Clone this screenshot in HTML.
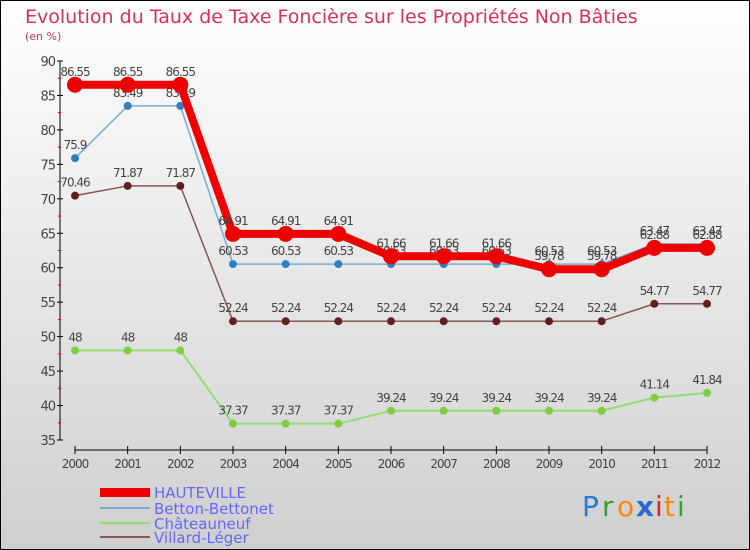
<!DOCTYPE html>
<html><head><meta charset="utf-8"><style>
body{margin:0}
#c{width:750px;height:550px;position:relative;overflow:hidden;font-family:"DejaVu Sans","Liberation Sans",sans-serif}
</style></head><body>
<div id="c">
<svg id="s" width="750" height="550" xmlns="http://www.w3.org/2000/svg">
<defs><linearGradient id="bg" x1="0" y1="0" x2="0" y2="1"><stop offset="0" stop-color="#ffffff"/><stop offset="1" stop-color="#cfcfcf"/></linearGradient></defs>
<rect x="0.5" y="0.5" width="749" height="549" fill="url(#bg)" stroke="#000"/>
<text x="25" y="23" font-size="19" fill="#d8305a">Evolution du Taux de Taxe Foncière sur les Propriétés Non Bâties</text>
<text x="25" y="40" font-size="11" fill="#d8305a">(en %)</text>
<g id="axes"></g><g id="series"></g>
<g>
<rect x="100" y="488" width="50" height="9" fill="#e00"/>
<text x="154" y="498" font-size="15" fill="#6666ff">HAUTEVILLE</text>
<line x1="100" y1="508" x2="150" y2="508" stroke="#7aaad0" stroke-width="2"/>
<text x="154" y="514" font-size="15" fill="#6666ff">Betton-Bettonet</text>
<line x1="100" y1="523" x2="150" y2="523" stroke="#90dd70" stroke-width="2"/>
<text x="154" y="529" font-size="15" fill="#6666ff">Châteauneuf</text>
<line x1="100" y1="537" x2="150" y2="537" stroke="#8a5555" stroke-width="2"/>
<text x="154" y="543" font-size="15" fill="#6666ff">Villard-Léger</text>
</g>
<g font-size="28" font-family="DejaVu Sans, sans-serif">
<text x="582" y="516" fill="#2a7ad0">P</text><text x="602" y="516" fill="#33a033">r</text><text x="617" y="516" fill="#ff8800">o</text><text x="636" y="516" fill="#2a6ad0" font-weight="bold">x</text><text x="655" y="516" fill="#dd2222">i</text><text x="664" y="516" fill="#ff8800">t</text><text x="677" y="516" fill="#33a033">i</text>
</g>
</svg></div>
<script>
const years=["2000","2001","2002","2003","2004","2005","2006","2007","2008","2009","2010","2011","2012"];
const yTicks=[35,40,45,50,55,60,65,70,75,80,85,90];
const hauteville=[86.55,86.55,86.55,64.91,64.91,64.91,61.66,61.66,61.66,59.78,59.78,62.88,62.88];
const betton=[75.9,83.49,83.49,60.53,60.53,60.53,60.53,60.53,60.53,60.53,60.53,63.47,63.47];
const chateauneuf=[48,48,48,37.37,37.37,37.37,39.24,39.24,39.24,39.24,39.24,41.14,41.84];
const villard=[70.46,71.87,71.87,52.24,52.24,52.24,52.24,52.24,52.24,52.24,52.24,54.77,54.77];
const NS="http://www.w3.org/2000/svg";
const X=i=>75+i*(707-75)/(years.length-1);
const Y=v=>61+(90-v)*(440-61)/55;
function mk(t,a,p){const e=document.createElementNS(NS,t);for(const k in a)e.setAttribute(k,a[k]);p.appendChild(e);return e;}
const ax=document.getElementById('axes');
let e=mk('line',{x1:60,y1:Y(90),x2:60,y2:Y(35),stroke:'#000'},ax);


e=mk('line',{x1:75,y1:450,x2:707,y2:450,stroke:'#000'},ax);


yTicks.forEach(v=>{
 mk('line',{x1:57,y1:Y(v),x2:63,y2:Y(v),stroke:'#000'},ax);
 if(v<90)mk('line',{x1:58,y1:Y(v+2.5),x2:61,y2:Y(v+2.5),stroke:'#e00'},ax);
 const t=mk('text',{x:55,y:Y(v)+5,'font-size':13,fill:'#444','text-anchor':'end','letter-spacing':'-1'},ax);t.textContent=v;
 
 
});
years.forEach((y,i)=>{
 mk('line',{x1:X(i),y1:446,x2:X(i),y2:454,stroke:'#000'},ax);
 const t=mk('text',{x:X(i),y:468,'font-size':12,fill:'#444','text-anchor':'middle','letter-spacing':'-1'},ax);t.textContent=y;
 
 
});
const sg=document.getElementById('series');
function series(arr,name,color,w,r,dot){
 const g=mk('g',{},sg);
 
 
 mk('polyline',{points:arr.map((v,i)=>X(i)+','+Y(v)).join(' '),fill:'none',stroke:color,'stroke-width':w,'stroke-linejoin':'round'},g);
 arr.forEach((v,i)=>{
  const c=mk('circle',{cx:X(i),cy:Y(v),r:r,fill:dot},g);
  
  
  const t=mk('text',{x:X(i),y:Y(v)-9,'font-size':12,fill:'#444','text-anchor':'middle','letter-spacing':'-1'},g);t.textContent=v;
  
  
 });
}
series(chateauneuf,'chateauneuf','#90dd70',2,4,'#80cc40');
series(villard,'villard','#8a5555',1.5,4,'#602020');
series(betton,'betton','#7aaad0',1.5,4,'#3080c0');
series(hauteville,'hauteville','#ee0000',8,8,'#ee0000');
</script>
</body></html>
